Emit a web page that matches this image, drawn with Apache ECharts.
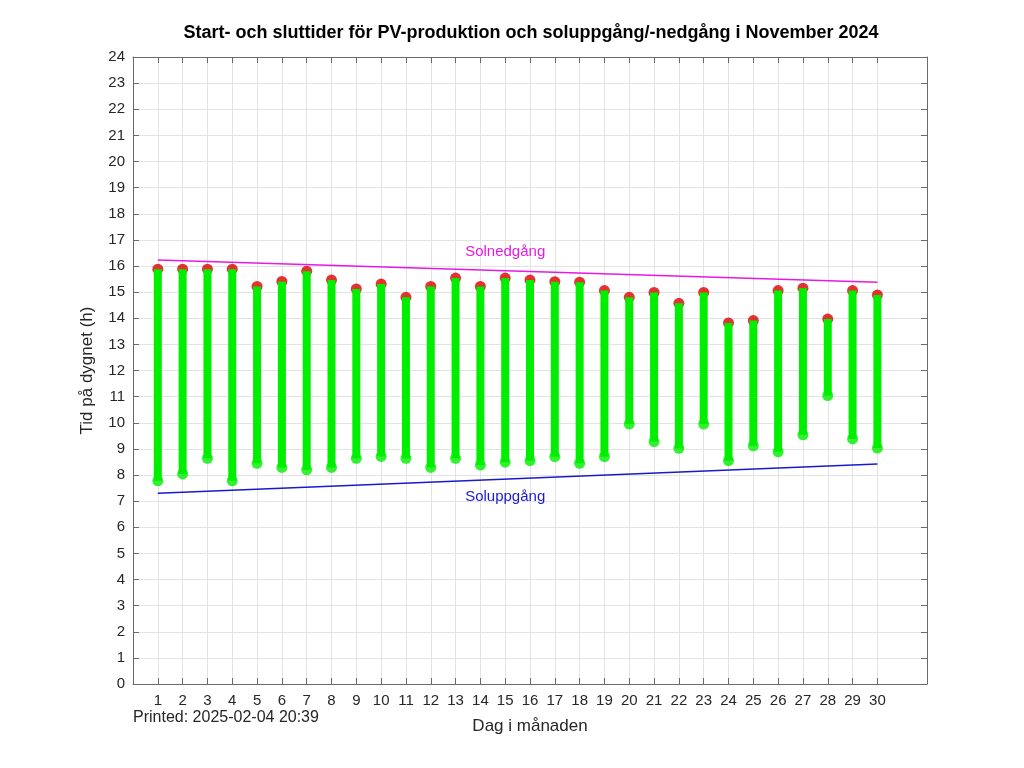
<!DOCTYPE html>
<html>
<head>
<meta charset="utf-8">
<script src="https://cdn.jsdelivr.net/npm/echarts@6/dist/echarts.min.js"></script>
<style>
html, body { margin: 0; padding: 0; background: #fff; }
#main { width: 1024px; height: 768px; }
</style>
</head>
<body>
<div id="main"></div>
<script>
// dagar 0..32, bara 1..30 visas
var days = [];
for (var d = 0; d <= 32; d++) days.push(String(d));

// start (grön punkt) och slut (röd punkt) för PV-produktion, timmar
var pvStart = [7.78, 8.04, 8.64, 7.78, 8.45, 8.29, 8.20, 8.29, 8.64, 8.71,
	8.64, 8.29, 8.64, 8.38, 8.49, 8.55, 8.70, 8.45, 8.70, 9.95,
	9.28, 9.02, 9.95, 8.55, 9.12, 8.89, 9.54, 11.04, 9.38, 9.03];
var pvEnd = [15.88, 15.88, 15.88, 15.88, 15.22, 15.41, 15.80, 15.46, 15.12, 15.31,
	14.80, 15.22, 15.54, 15.22, 15.54, 15.46, 15.40, 15.38, 15.06, 14.80,
	14.99, 14.57, 14.99, 13.82, 13.91, 15.06, 15.15, 13.97, 15.06, 14.89];

// soluppgång / solnedgång, första och sista dagen
var sunDays = ['1', '30'];
var sunrise = [7.30, 8.42];
var sunset = [16.23, 15.38];

var green = '#00ee00';
var red = '#dd0000';
var axisCol = '#6a6a6a';
var txtCol = '#262626';
var font = 'Liberation Sans, Arial, sans-serif';

var ranges = pvStart.map(function (s, i) { return [String(i + 1), s, pvEnd[i]]; });
var tops = pvEnd.map(function (v, i) { return [String(i + 1), v]; });
var bottoms = pvStart.map(function (v, i) { return [String(i + 1), v]; });

function shown(idx) { return idx >= 1 && idx <= 30; }

var myChart = echarts.init(document.getElementById('main'));
var xBase = {
	type: 'category',
	data: days,
	boundaryGap: false,
	axisLine: { show: true, onZero: false, lineStyle: { color: axisCol, width: 1 } },
	axisTick: { show: true, inside: true, length: 6, interval: function (i) { return shown(i); }, lineStyle: { color: axisCol } }
};
var yBase = {
	type: 'value',
	min: 0,
	max: 24,
	interval: 1,
	axisLine: { show: true, onZero: false, lineStyle: { color: axisCol, width: 1 } },
	axisTick: { show: true, inside: true, length: 6, lineStyle: { color: axisCol } }
};

option = {
	backgroundColor: '#fff',
	animation: false,
	title: {
		text: 'Start- och sluttider för PV-produktion och soluppgång/-nedgång i November 2024',
		left: 526,
		textAlign: 'center',
		top: 19,
		textStyle: { color: '#000', fontSize: 18, fontWeight: 'bold', fontFamily: font }
	},
	graphic: [{
		type: 'text',
		left: 133,
		top: 710,
		style: { text: 'Printed: 2025-02-04 20:39', fill: txtCol, font: '16px ' + font }
	}],
	grid: { left: 133, right: 97, top: 57, bottom: 84, containLabel: false },
	xAxis: [
		Object.assign({}, xBase, {
			position: 'bottom',
			name: 'Dag i månaden',
			nameLocation: 'middle',
			nameGap: 34,
			nameTextStyle: { color: txtCol, fontSize: 17, fontFamily: font },
			axisLabel: {
				interval: function (i) { return shown(i); },
				color: txtCol, fontSize: 15, fontFamily: font, margin: 9
			},
			splitLine: {
				show: true,
				interval: function (i) { return shown(i); },
				lineStyle: { color: '#e3e3e3', width: 1 }
			}
		}),
		Object.assign({}, xBase, {
			position: 'top',
			axisLabel: { show: false },
			splitLine: { show: false }
		})
	],
	yAxis: [
		Object.assign({}, yBase, {
			position: 'left',
			name: 'Tid på dygnet (h)',
			nameLocation: 'middle',
			nameGap: 37,
			nameTextStyle: { color: txtCol, fontSize: 17, fontFamily: font },
			axisLabel: { color: txtCol, fontSize: 15, fontFamily: font, margin: 8 },
			splitLine: { show: true, lineStyle: { color: '#e3e3e3', width: 1 } }
		}),
		Object.assign({}, yBase, {
			position: 'right',
			axisLabel: { show: false },
			splitLine: { show: false }
		})
	],
	series: [{
		name: 'Solnedgång',
		type: 'line',
		data: sunset.map(function (v, i) { return [sunDays[i], v]; }),
		symbol: 'none',
		lineStyle: { color: '#e619e6', width: 1.5 },
		z: 2,
		markPoint: {
			symbol: 'circle',
			symbolSize: 0,
			label: { show: true, formatter: 'Solnedgång', color: '#e619e6', fontSize: 15, fontFamily: font, position: 'inside' },
			data: [{ coord: ['15', 16.54] }]
		}
	}, {
		name: 'Soluppgång',
		type: 'line',
		data: sunrise.map(function (v, i) { return [sunDays[i], v]; }),
		symbol: 'none',
		lineStyle: { color: '#1a1acc', width: 1.5 },
		z: 2,
		markPoint: {
			symbol: 'circle',
			symbolSize: 0,
			label: { show: true, formatter: 'Soluppgång', color: '#1a1acc', fontSize: 15, fontFamily: font, position: 'inside' },
			data: [{ coord: ['15', 7.16] }]
		}
	}, {
		name: 'Slut',
		type: 'scatter',
		data: tops,
		symbol: 'circle',
		symbolSize: 11,
		itemStyle: { color: red },
		z: 3
	}, {
		name: 'PV',
		type: 'custom',
		data: ranges,
		z: 4,
		renderItem: function (params, api) {
			var p0 = api.coord([api.value(0), api.value(1)]);
			var p1 = api.coord([api.value(0), api.value(2)]);
			return {
				type: 'line',
				shape: { x1: p0[0], y1: p0[1], x2: p1[0], y2: p1[1] },
				style: { stroke: green, lineWidth: 8, lineCap: 'butt' }
			};
		}
	}, {
		name: 'Start',
		type: 'scatter',
		data: bottoms,
		symbol: 'circle',
		symbolSize: 11,
		itemStyle: { color: green },
		z: 5
	}]
};

myChart.setOption(option);
</script>
</body>
</html>
